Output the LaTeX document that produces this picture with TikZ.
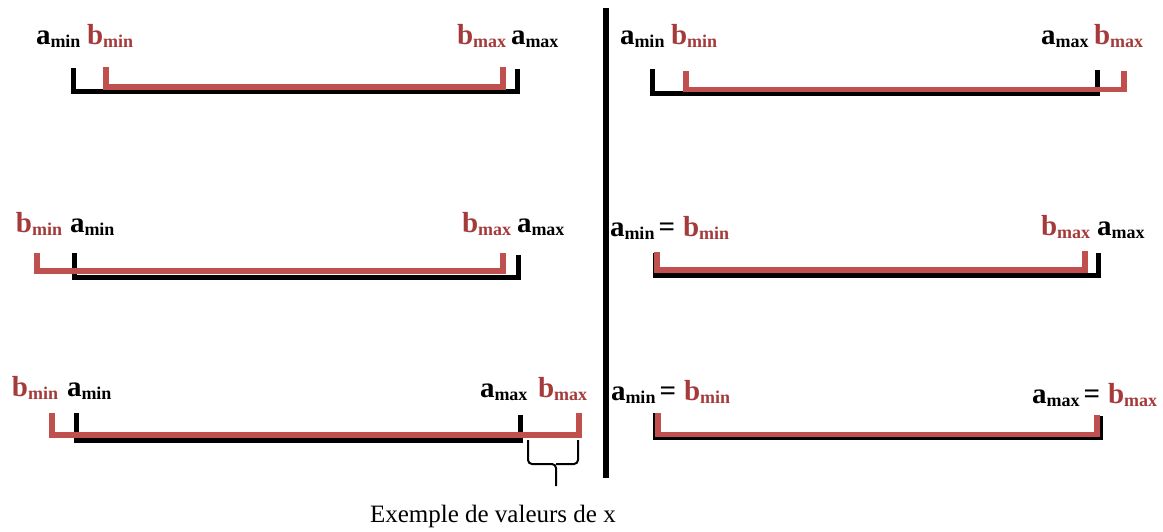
\documentclass[tikz,border=0pt]{standalone}
\usepackage{fontspec}
\setmainfont{Liberation Serif}
\definecolor{redline}{RGB}{192,80,77}
\definecolor{labred}{RGB}{165,58,58}
% bound label: big bold letter with a bold subscript
\newcommand\lab[2]{{\bfseries\fontsize{29}{31}\selectfont #1}{\bfseries\fontsize{18}{20}\selectfont\raisebox{-3pt}{#2}}}
\newcommand\eqsign{\hspace{4pt}{\bfseries\fontsize{29}{31}\selectfont =}\hspace{8pt}}
\tikzset{
  ablk/.style={line width=5pt, black, line join=miter},
  bred/.style={line width=5.5pt, redline, line join=miter},
  lbl/.style={anchor=base west, inner sep=0pt, outer sep=0pt},
  rlbl/.style={lbl, text=labred},
  bracestyle/.style={line width=2pt, black, rounded corners=4pt},
}
\begin{document}
\begin{tikzpicture}[x=1pt, y=-1pt]
\useasboundingbox (0,0) rectangle (1163,531);

% separator between the two columns
\coordinate (sepTop) at (606,8);
\coordinate (sepBot) at (606,478);
\draw[line width=6pt] (sepTop) -- (sepBot);

% ---------- left column ----------
% case 1: B inside A
\node[lbl]  (a1min) at (36,44)  {\lab{a}{min}};
\node[rlbl] (b1min) at (87,44)  {\lab{b}{min}};
\node[rlbl] (b1max) at (457,44) {\lab{b}{max}};
\node[lbl]  (a1max) at (511,44) {\lab{a}{max}};
\draw[ablk] (73,68) |- (517,91) -- (517,69);
\draw[bred] (106,67) |- (503,87) -- (503,67);

% case 2: B starts before A
\node[rlbl] (b2min) at (16,232)  {\lab{b}{min}};
\node[lbl]  (a2min) at (70,232)  {\lab{a}{min}};
\node[rlbl] (b2max) at (462,232) {\lab{b}{max}};
\node[lbl]  (a2max) at (517,232) {\lab{a}{max}};
\draw[ablk] (74,253) |- (518,277.5) -- (518,255);
\draw[bred] (37,253) |- (503,271) -- (503,253);

% case 3: B overlaps A on both sides
\node[rlbl] (b3min) at (12,396)  {\lab{b}{min}};
\node[lbl]  (a3min) at (67,396)  {\lab{a}{min}};
\node[lbl]  (a3max) at (480,397) {\lab{a}{max}};
\node[rlbl] (b3max) at (538,397) {\lab{b}{max}};
\draw[ablk] (76,413) |- (520,440) -- (520,415);
\draw[bred] (52,413) |- (579,435) -- (579,413);

% brace under the part of B beyond A
\coordinate (brL) at (528,440);
\coordinate (brR) at (578,440);
\coordinate (brTip) at (556,486);
\draw[bracestyle] (brL) |- (556,464) -- (brTip);
\draw[bracestyle] (brR) |- (556,464);
\node[lbl, font=\fontsize{25}{28}\selectfont] (caption) at (370,522) {Exemple de valeurs de x};

% ---------- right column ----------
% case 4: B ends after A
\node[lbl]  (a4min) at (620,44)  {\lab{a}{min}};
\node[rlbl] (b4min) at (671,44)  {\lab{b}{min}};
\node[lbl]  (a4max) at (1041,44) {\lab{a}{max}};
\node[rlbl] (b4max) at (1094,44) {\lab{b}{max}};
\draw[ablk] (652,69) |- (1097,93.5) -- (1097,70);
\draw[bred] (686,71) |- (1124,89.5) -- (1124,71);

% case 5: same lower bound
\node[lbl] (a5min) at (610,236) {\lab{a}{min}\eqsign\textcolor{labred}{\lab{b}{min}}};
\node[rlbl] (b5max) at (1041,235) {\lab{b}{max}};
\node[lbl]  (a5max) at (1097,235) {\lab{a}{max}};
\draw[ablk] (655,253) |- (1098,275.5) -- (1098,253);
\draw[bred] (657,252) |- (1085,270) -- (1085,251);

% case 6: identical intervals
\node[lbl] (a6min) at (611,400) {\lab{a}{min}\eqsign\textcolor{labred}{\lab{b}{min}}};
\node[lbl] (a6max) at (1032,403) {\lab{a}{max}\eqsign\textcolor{labred}{\lab{b}{max}}};
\draw[ablk] (655,413) |- (1100,437.5) -- (1100,416);
\draw[bred] (658,413) |- (1097,434.5) -- (1097,415);
\end{tikzpicture}
\end{document}
